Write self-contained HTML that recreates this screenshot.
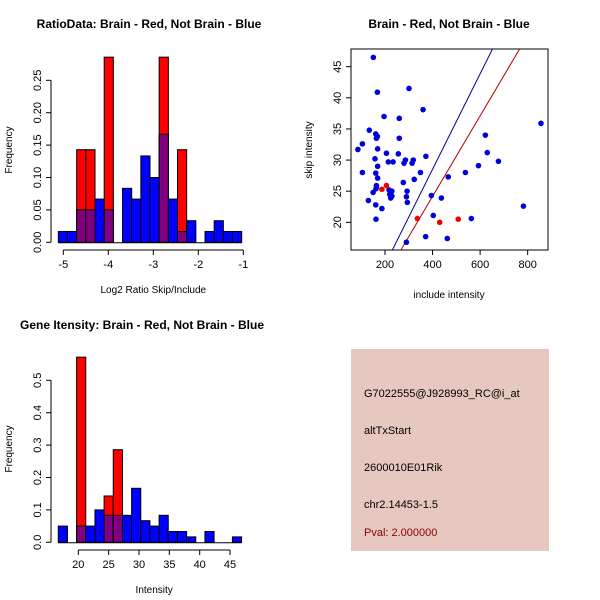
<!DOCTYPE html>
<html><head><meta charset="utf-8"><style>
body{margin:0;background:#fff}
svg{display:block;font-family:"Liberation Sans",sans-serif}
</style></head><body>
<svg id="s" width="600" height="600" xmlns="http://www.w3.org/2000/svg">
<rect x="0" y="0" width="600" height="600" fill="#fff"/>
<text x="149" y="28" font-size="12" font-weight="bold" text-anchor="middle">RatioData: Brain - Red, Not Brain - Blue</text>
<text x="449" y="28" font-size="12" font-weight="bold" text-anchor="middle">Brain - Red, Not Brain - Blue</text>
<text x="142" y="329" font-size="12" font-weight="bold" text-anchor="middle">Gene Itensity: Brain - Red, Not Brain - Blue</text>
<g id="p1"></g>
<g id="p2"></g>
<g id="p3"></g>
<g>
<rect x="351" y="349" width="198" height="202" fill="#e6c8c0"/>
<text x="364" y="397" font-size="11" fill="#000">G7022555@J928993_RC@i_at</text>
<text x="364" y="434" font-size="11" fill="#000">altTxStart</text>
<text x="364" y="471" font-size="11" fill="#000">2600010E01Rik</text>
<text x="364" y="508" font-size="11" fill="#000">chr2.14453-1.5</text>
<text x="364" y="536" font-size="11" fill="#8b0000">Pval: 2.000000</text>
</g>
</svg>
<script>
// Ratio histogram data
const ratioStart=-5.11, ratioWidth=0.2037;
const ratioBlue=[0.0167,0.0167,0.05,0.05,0.0667,0.05,0,0.0833,0.0667,0.1333,0.1,0.1667,0.0667,0.0167,0.0333,0,0.0167,0.0333,0.0167,0.0167];
const ratioRed=[0,0,0.1429,0.1429,0,0.2857,0,0,0,0,0,0.2857,0,0.1429,0,0,0,0,0,0];
const ratioXTicks=[-5,-4,-3,-2,-1];
const ratioYTicks=[0,0.05,0.10,0.15,0.20,0.25];
const ratioYLabels=["0.00","0.05","0.10","0.15","0.20","0.25"];
// Intensity histogram data
const intStart=16.7, intWidth=1.51;
const intBlue=[0.05,0,0.05,0.05,0.1,0.0833,0.0833,0.0833,0.1667,0.0667,0.05,0.0833,0.0333,0.0333,0.0167,0,0.0333,0,0,0.0167];
const intRed=[0,0,0.5714,0,0,0.1429,0.2857,0,0,0,0,0,0,0,0,0,0,0,0,0];
const intXTicks=[20,25,30,35,40,45];
const intYTicks=[0,0.1,0.2,0.3,0.4,0.5];
const intYLabels=["0.0","0.1","0.2","0.3","0.4","0.5"];
// Scatter data
const blueX=[151,168,301,360,196,260,134,168,161,164,260,86,105,169,206,256,372,158,214,234,286,280,319,314,169,105,161,169,323,349,277,164,164,162,217,229,150,220,229,224,293,290,294,130,161,187,162,290,395,437,466,403,371,462,563,538,593,622,630,677,782,856];
const blueY=[46.5,40.9,41.5,38.1,37.0,36.7,34.8,33.8,34.2,33.5,33.5,31.7,32.6,31.8,31.1,31.0,30.6,30.2,29.7,29.7,30.0,29.5,30.0,29.5,29.0,28.0,27.9,27.1,26.9,28.0,26.4,25.9,25.6,25.4,25.2,25.0,24.8,24.5,24.2,23.9,25.0,24.1,23.2,23.5,22.8,22.2,20.5,16.8,24.3,23.9,27.3,21.1,17.7,17.4,20.6,28.0,29.1,34.0,31.2,29.8,22.6,35.9];
const redX=[187,206,336,430,508];
const redY=[25.3,25.9,20.6,20.0,20.5];
const blueLine=[-2.16,0.0767];
const redLine=[-1.72,0.0647];
const scXTicks=[200,400,600,800];
const scYTicks=[20,25,30,35,40,45];

const NS="http://www.w3.org/2000/svg";
function mk(p,tag,a,txt){const e=document.createElementNS(NS,tag);for(const k in a)e.setAttribute(k,a[k]);if(txt!==undefined)e.textContent=txt;p.appendChild(e);return e;}

function hist(g,start,w,blue,red,xs,ys,yl,xpx,ypx,xlab,yMid,xAxisY,yAxisX){
  const sx=v=>xpx[0]+(v-xpx[1])*xpx[2];
  const sy=v=>ypx[0]-v*ypx[1];
  for(let i=0;i<blue.length;i++){
    const x0=sx(start+i*w),x1=sx(start+(i+1)*w);
    if(blue[i]>0){const r=mk(g,'rect',{x:x0,y:sy(blue[i]),width:x1-x0,height:sy(0)-sy(blue[i]),fill:'#0000ff',stroke:'#000','stroke-width':1});
      
      }
    if(red[i]>0){const r=mk(g,'rect',{x:x0,y:sy(red[i]),width:x1-x0,height:sy(0)-sy(red[i]),fill:'#ff0000',stroke:'#000','stroke-width':1});
      
      }
    const m=Math.min(blue[i],red[i]);
    if(m>0){const r=mk(g,'rect',{x:x0,y:sy(m),width:x1-x0,height:sy(0)-sy(m),fill:'#800080',stroke:'#000','stroke-width':1});
      
      }
  }
  mk(g,'line',{x1:sx(start),x2:sx(start+blue.length*w),y1:sy(0)+0.5,y2:sy(0)+0.5,stroke:'#000'});
  // x axis
  mk(g,'line',{x1:sx(xs[0]),x2:sx(xs[xs.length-1]),y1:xAxisY,y2:xAxisY,stroke:'#000'});
  xs.forEach(v=>{mk(g,'line',{x1:sx(v),x2:sx(v),y1:xAxisY,y2:xAxisY+5,stroke:'#000'});
    const t=mk(g,'text',{x:sx(v),y:xAxisY+18,'font-size':11,'text-anchor':'middle'},String(v));
    
    });
  mk(g,'line',{x1:yAxisX,x2:yAxisX,y1:sy(ys[0]),y2:sy(ys[ys.length-1]),stroke:'#000'});
  ys.forEach((v,i)=>{mk(g,'line',{x1:yAxisX-5,x2:yAxisX,y1:sy(v),y2:sy(v),stroke:'#000'});
    const t=mk(g,'text',{x:yAxisX-10,y:sy(v),'font-size':11,'text-anchor':'middle',transform:`rotate(-90 ${yAxisX-10} ${sy(v)})`},yl[i]);
    
    });
  const xt=mk(g,'text',{x:(sx(xs[0])+sx(xs[xs.length-1]))/2,y:xAxisY+43,'font-size':10,'text-anchor':'middle'},xlab);
  
  
  const yt=mk(g,'text',{x:12,y:yMid,'font-size':10,'text-anchor':'middle',transform:`rotate(-90 12 ${yMid})`},'Frequency');
  
  
}
hist(document.getElementById('p1'),ratioStart,ratioWidth,ratioBlue,ratioRed,ratioXTicks,ratioYTicks,ratioYLabels,[63.3,-5,45],[242.3,648],'Log2 Ratio Skip/Include',150,250,51);
hist(document.getElementById('p3'),intStart,intWidth,intBlue,intRed,intXTicks,intYTicks,intYLabels,[78.3,20,6.07],[542.3,324],'Intensity',449,550,51);

// scatter
(function(){
  const g=document.getElementById('p2');
  const L=351,R=548,T=49,B=250;
  const sx=v=>385+(v-200)*0.2378;
  const sy=v=>222.3-(v-20)*6.224;
  mk(g,'rect',{x:L,y:T,width:R-L,height:B-T,fill:'none',stroke:'#000'});
  const cp=mk(g,'clipPath',{id:'cp'});mk(cp,'rect',{x:L,y:T,width:R-L,height:B-T});
  const lg=mk(g,'g',{'clip-path':'url(#cp)'});
  [[blueLine,'#00008b','blue-fit-line'],[redLine,'#b00000','red-fit-line']].forEach(([c,col,n])=>{
    const l=mk(lg,'line',{x1:sx(0),y1:sy(c[0]),x2:sx(1000),y2:sy(c[0]+c[1]*1000),stroke:col,'stroke-width':1});
    
    });
  blueX.forEach((v,i)=>{const c=mk(lg,'circle',{cx:sx(v),cy:sy(blueY[i]),r:2.8,fill:'#0000dd'});
    
    });
  redX.forEach((v,i)=>{const c=mk(lg,'circle',{cx:sx(v),cy:sy(redY[i]),r:2.8,fill:'#ee0000'});
    
    });
  scXTicks.forEach(v=>{mk(g,'line',{x1:sx(v),x2:sx(v),y1:B,y2:B+5,stroke:'#000'});
    const t=mk(g,'text',{x:sx(v),y:B+18,'font-size':11,'text-anchor':'middle'},String(v));
    
    });
  scYTicks.forEach(v=>{mk(g,'line',{x1:L-5,x2:L,y1:sy(v),y2:sy(v),stroke:'#000'});
    const t=mk(g,'text',{x:L-10,y:sy(v),'font-size':11,'text-anchor':'middle',transform:`rotate(-90 ${L-10} ${sy(v)})`},String(v));
    
    });
  const xt=mk(g,'text',{x:449,y:298,'font-size':10,'text-anchor':'middle'},'include intensity');
  
  
  const yt=mk(g,'text',{x:312,y:150,'font-size':10,'text-anchor':'middle',transform:'rotate(-90 312 150)'},'skip intensity');
  
  
})();
</script>
</body></html>
